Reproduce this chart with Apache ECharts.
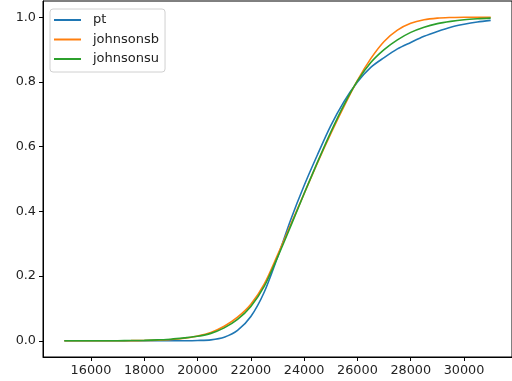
<!DOCTYPE html>
<html>
<head>
<meta charset="utf-8">
<script src="https://cdn.jsdelivr.net/npm/echarts@6/dist/echarts.min.js"></script>
<style>html,body{margin:0;padding:0;background:#fff;}#c{width:512px;height:381px;}</style>
</head>
<body>
<div id="c"></div>
<script>
var xValues = [15000,15500,16000,16500,17000,17500,18000,18500,19000,19500,20000,20500,21000,21500,22000,22500,23000,23500,24000,24500,25000,25500,26000,26500,27000,27500,28000,28500,29000,29500,30000,30500,31000];
var ptValues = [0,0,0,0,0,0,0,0,0,0.0002,0.001,0.003,0.011,0.032,0.075,0.15,0.258,0.375,0.48,0.575,0.665,0.74,0.80,0.845,0.875,0.902,0.922,0.941,0.956,0.969,0.978,0.985,0.990];
var johnsonsbValues = [0,0,0,0,0.0002,0.0005,0.001,0.002,0.004,0.008,0.015,0.026,0.045,0.073,0.113,0.175,0.265,0.36,0.455,0.55,0.64,0.725,0.805,0.872,0.925,0.96,0.981,0.992,0.997,0.999,1.0,1.0,1.0];
var johnsonsuValues = [0,0,0,0.0002,0.0004,0.0008,0.0015,0.003,0.005,0.009,0.014,0.023,0.04,0.066,0.106,0.168,0.258,0.355,0.455,0.552,0.645,0.73,0.803,0.86,0.9,0.93,0.953,0.969,0.98,0.987,0.992,0.995,0.997];
var xTicks = [16000,18000,20000,22000,24000,26000,28000,30000];
var yTicks = [0,0.2,0.4,0.6,0.8,1.0];
var seriesNames = ['pt','johnsonsb','johnsonsu'];
var colors = ['#1f77b4','#ff7f0e','#2ca02c'];

function pairs(ys){ return xValues.map(function(x,i){ return [x, ys[i]]; }); }
var allValues = [ptValues, johnsonsbValues, johnsonsuValues];

var chart = echarts.init(document.getElementById('c'), null, {renderer:'canvas'});
var font = 'DejaVu Sans';
chart.setOption({
  animation: false,
  backgroundColor: '#fff',
  grid: {left: 43, top: 1, width: 479, height: 356, show: true, borderColor: '#000', borderWidth: 1, containLabel: false},
  legend: {
    orient: 'vertical', left: 50, top: 9,
    data: seriesNames,
    icon: 'rect',
    itemWidth: 27, itemHeight: 2, itemGap: 5.5,
    padding: [4, 6, 6, 4],
    borderColor: '#d0d0d0', borderWidth: 1, borderRadius: 3,
    backgroundColor: 'rgba(255,255,255,0.8)',
    textStyle: {fontFamily: font, fontSize: 13, lineHeight: 14, color: '#222', padding: [0,0,0,7]}
  },
  xAxis: {
    type: 'value', min: 14200, max: 31800,
    splitLine: {show: false},
    axisLine: {show: true, onZero: false, lineStyle: {color: '#000'}},
    axisTick: {show: true, length: 4, customValues: xTicks, lineStyle: {color: '#000'}},
    axisLabel: {customValues: xTicks, fontFamily: font, fontSize: 12.8, color: '#222', margin: 7,
      formatter: function(v){ return String(v); }}
  },
  yAxis: {
    type: 'value', min: -0.05, max: 1.05,
    splitLine: {show: false},
    axisLine: {show: true, onZero: false, lineStyle: {color: '#000'}},
    axisTick: {show: true, length: 4, customValues: yTicks, lineStyle: {color: '#000'}},
    axisLabel: {customValues: yTicks, fontFamily: font, fontSize: 12.8, color: '#222', margin: 7,
      formatter: function(v){ return v.toFixed(1); }}
  },
  series: seriesNames.map(function(n, i){
    return {
      name: n, type: 'line', data: pairs(allValues[i]),
      symbol: 'none', smooth: 0.3,
      lineStyle: {color: colors[i], width: 1.6},
      itemStyle: {color: colors[i]}
    };
  })
});
</script>
</body>
</html>
